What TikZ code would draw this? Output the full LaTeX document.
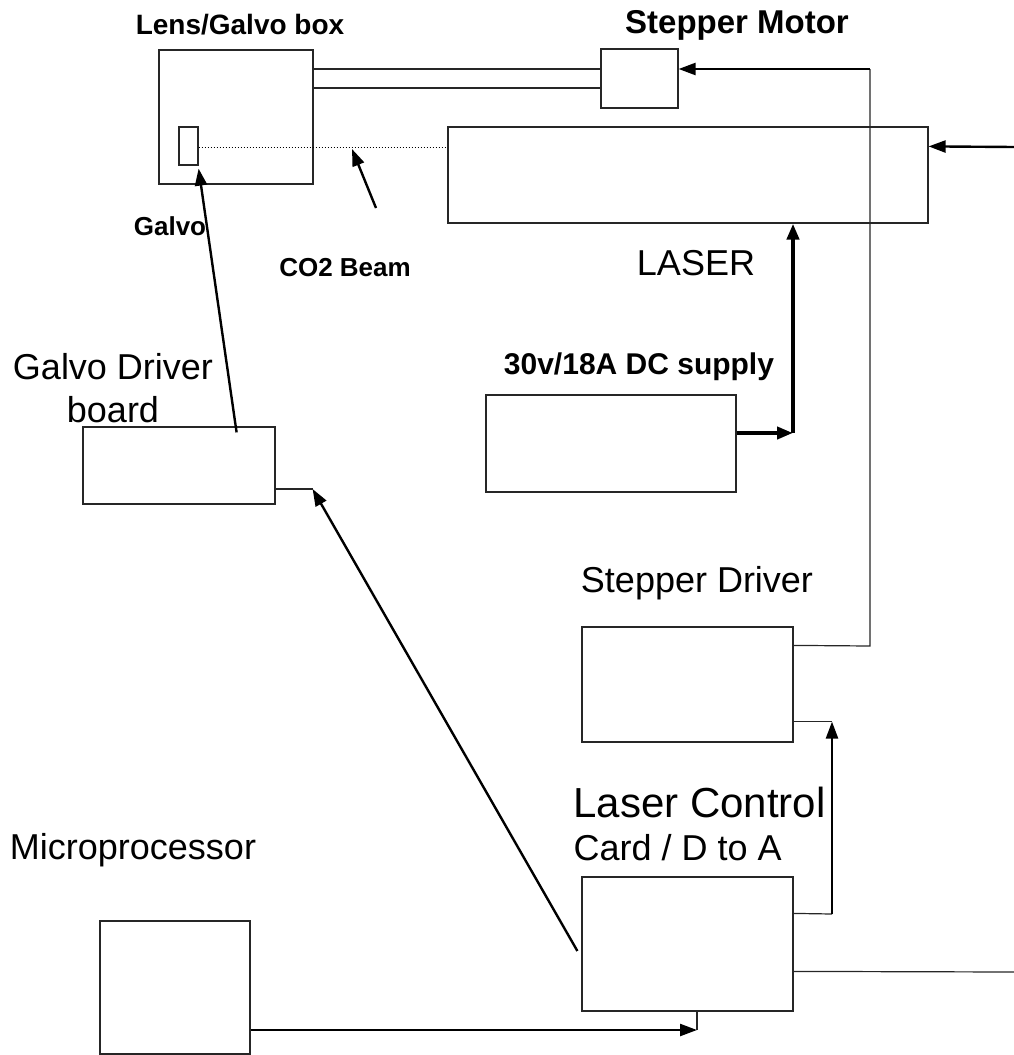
\documentclass[tikz,border=0pt]{standalone}
\usepackage{fontspec}
\setmainfont{Liberation Sans}
\usetikzlibrary{arrows.meta}

\tikzset{
  unit/.style={draw=black!85, line width=1.2pt, inner sep=0pt},
  wire/.style={draw=black!85, line width=1.2pt},
  feed/.style={line width=2.4pt, -{Triangle[length=17pt,width=12pt]}},
  power/.style={line width=4pt, -{Triangle[length=16pt,width=12pt]}},
  tag/.style={font=\fontsize{36}{37}\selectfont},
  boldtag/.style={font=\bfseries\fontsize{32}{34}\selectfont},
  smalltag/.style={font=\bfseries\fontsize{26}{28}\selectfont},
}

\begin{document}
\begin{tikzpicture}[x=1pt, y=-1pt]
    \useasboundingbox (0,0) rectangle (1014,1055);

    \node[unit, minimum width=154pt, minimum height=134pt] (lens) at (236,117) {};
    \node[unit, minimum width=19pt, minimum height=38pt] (mirror) at (188.5,146) {};
    \node[unit, minimum width=77pt, minimum height=59pt] (motor) at (639.5,78.5) {};
    \node[unit, minimum width=480pt, minimum height=96pt] (laser) at (688,175) {};
    \node[unit, minimum width=250pt, minimum height=97pt] (supply) at (611,443.5) {};
    \node[unit, minimum width=192pt, minimum height=77pt] (gdriver) at (179,465.5) {};
    \node[unit, minimum width=211pt, minimum height=115pt] (sdriver) at (687.5,684.5) {};
    \node[unit, minimum width=211pt, minimum height=134pt] (card) at (687.5,944) {};
    \node[unit, minimum width=150pt, minimum height=133pt] (micro) at (175,987.5) {};

    \node[boldtag, font=\bfseries\fontsize{28}{30}\selectfont] (lenstitle) at (240,25) {Lens/Galvo box};
    \node[boldtag, font=\bfseries\fontsize{33}{35}\selectfont] (motortitle) at (737,25) {Stepper Motor};
    \node[smalltag] (galvotitle) at (170,226) {Galvo};
    \node[smalltag] (beamtitle) at (345,268) {CO2 Beam};
    \node[tag] (lasertitle) at (696,263) {LASER};
    \node[smalltag, font=\bfseries\fontsize{30}{32}\selectfont] (supplytitle) at (639,367) {30v/18A DC supply};
    \node[tag, align=center, font=\fontsize{36}{43}\selectfont] (gdrivertitle) at (113,388) {Galvo Driver\\board};
    \node[tag] (sdrivertitle) at (697,583) {Stepper Driver};
    \node[tag, font=\fontsize{42}{44}\selectfont, anchor=west] (cardtitle) at (570,802) {Laser Control};
    \node[tag, anchor=west] (cardsub) at (570,848) {Card / D to A};
    \node[tag] (microtitle) at (133,850) {Microprocessor};

    \coordinate (railtop) at ([yshift=9.5pt]motor.west);
    \coordinate (railbot) at ([yshift=-9.5pt]motor.west);
    \draw[wire] (railtop) -- (railtop -| lens.east);
    \draw[wire] (railbot) -- (railbot -| lens.east);

    \draw[line width=1pt, dotted] ([yshift=-1pt]mirror.east) -- ([yshift=-1pt]mirror.east -| laser.west);
    \coordinate (beamtip) at (352,149);
    \coordinate (beamtail) at (376,208);
    \draw[feed] (beamtail) -- (beamtip);

    \coordinate (gdtail) at ([xshift=-39pt,yshift=-6pt]gdriver.north east);
    \draw[feed] (gdtail) -- ([yshift=-3pt]mirror.south east);

    \coordinate (mtrin) at ([yshift=9.5pt]motor.east);
    \coordinate (sdout) at ([yshift=-19pt]sdriver.north east);
    \coordinate (sdcorner) at (870,646);
    \draw[wire] (sdout) -- (sdcorner) -- (sdcorner |- mtrin);
    \draw[feed] (sdcorner |- mtrin) -- (mtrin);

    \coordinate (lasin) at ([yshift=-20pt]laser.north east);
    \coordinate (lasfree) at (1014,147);
    \draw[feed] (lasfree) -- (lasin);

    \coordinate (supout) at ([yshift=10.5pt]supply.east);
    \coordinate (supcorner) at (793,433);
    \draw[power] (supout) -- (supcorner);
    \draw[power] (supcorner) -- (supcorner |- laser.south);

    \coordinate (cardright) at ([yshift=-95pt]card.north east);
    \coordinate (cardfree) at (1014,972);
    \draw[wire] (cardright) -- (cardfree);

    \coordinate (cardout) at ([yshift=-37pt]card.north east);
    \coordinate (cardcorner) at (832,914);
    \coordinate (sdin) at ([yshift=21pt]sdriver.south east);
    \draw[wire] (cardout) -- (cardcorner);
    \draw[feed] (cardcorner) -- (cardcorner |- sdin);
    \draw[wire] (sdin) -- (sdin -| cardcorner);

    \coordinate (microout) at ([yshift=-42.5pt]micro.east);
    \coordinate (cardbot) at ([xshift=9.5pt]card.south);
    \draw[feed] (microout) -- (microout -| cardbot);
    \draw[wire] (cardbot) -- (microout -| cardbot);

    \coordinate (cardleft) at ([xshift=-4pt,yshift=-7pt]card.west);
    \coordinate (gdin) at ([yshift=-23.5pt]gdriver.east);
    \coordinate (gdcorner) at ([xshift=37pt]gdin);
    \draw[feed] (cardleft) -- (gdcorner);
    \draw[wire] (gdcorner) -- (gdin);
\end{tikzpicture}
\end{document}
